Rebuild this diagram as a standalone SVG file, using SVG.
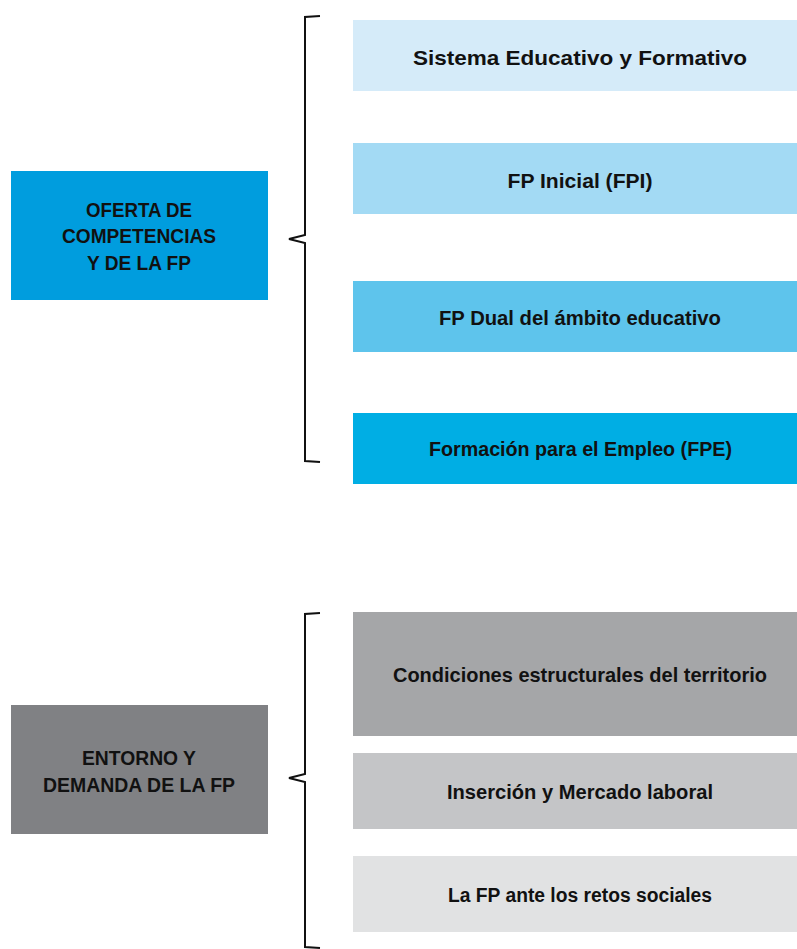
<svg xmlns="http://www.w3.org/2000/svg" width="797" height="949" viewBox="0 0 797 949">
<style>
text{font-family:"Liberation Sans","Noto Sans",sans-serif;font-weight:bold;fill:#111;text-anchor:middle}
.big{font-size:21px}
.mid{font-size:19.5px}
.lab{font-size:20.5px}
.brace{fill:none;stroke:#111;stroke-width:2;stroke-linejoin:miter}
</style>
<rect width="797" height="949" fill="#fff"/>
<g id="oferta">
<rect x="11" y="171" width="257" height="129" fill="#009DDE"/>
<text class="lab" x="139" y="217" textLength="106" lengthAdjust="spacingAndGlyphs">OFERTA DE</text>
<text class="lab" x="139" y="243" textLength="154" lengthAdjust="spacingAndGlyphs">COMPETENCIAS</text>
<text class="lab" x="139" y="270" textLength="104" lengthAdjust="spacingAndGlyphs">Y DE LA FP</text>
</g>
<g id="sistema">
<rect x="353" y="20" width="444" height="71" fill="#D5EBF9"/>
<text class="big" x="580" y="65" textLength="334" lengthAdjust="spacingAndGlyphs">Sistema Educativo y Formativo</text>
</g>
<g id="fpi">
<rect x="353" y="143" width="444" height="71" fill="#A3DAF4"/>
<text class="big" x="580" y="188" textLength="145" lengthAdjust="spacingAndGlyphs">FP Inicial (FPI)</text>
</g>
<g id="fpdual">
<rect x="353" y="281" width="444" height="71" fill="#5EC4EC"/>
<text class="mid" x="580" y="325" textLength="282" lengthAdjust="spacingAndGlyphs">FP Dual del ámbito educativo</text>
</g>
<g id="fpe">
<rect x="353" y="413" width="444" height="71" fill="#00AEE4"/>
<text class="mid" x="580.5" y="455.5" textLength="303" lengthAdjust="spacingAndGlyphs">Formación para el Empleo (FPE)</text>
</g>
<g id="entorno">
<rect x="11" y="705" width="257" height="129" fill="#808184"/>
<text class="lab" x="139" y="765" textLength="114" lengthAdjust="spacingAndGlyphs">ENTORNO Y</text>
<text class="lab" x="139" y="791.5" textLength="192" lengthAdjust="spacingAndGlyphs">DEMANDA DE LA FP</text>
</g>
<g id="condiciones">
<rect x="353" y="612" width="444" height="124" fill="#A5A6A8"/>
<text class="lab" x="580" y="681.5" textLength="374" lengthAdjust="spacingAndGlyphs">Condiciones estructurales del territorio</text>
</g>
<g id="insercion">
<rect x="353" y="753" width="444" height="76" fill="#C4C5C7"/>
<text class="mid" x="580" y="799" textLength="266" lengthAdjust="spacingAndGlyphs">Inserción y Mercado laboral</text>
</g>
<g id="retos">
<rect x="353" y="856" width="444" height="76" fill="#E1E2E3"/>
<text class="mid" x="580" y="901.5" textLength="264" lengthAdjust="spacingAndGlyphs">La FP ante los retos sociales</text>
</g>
<g id="connectors">
<path class="brace" d="M320,16 L305,17 L305,235 L289,239 L305,243 L305,461 L320,462"/>
<path class="brace" d="M320,613 L305,614 L305,774 L289,778 L305,782 L305,947 L320,948"/>
</g>
</svg>
